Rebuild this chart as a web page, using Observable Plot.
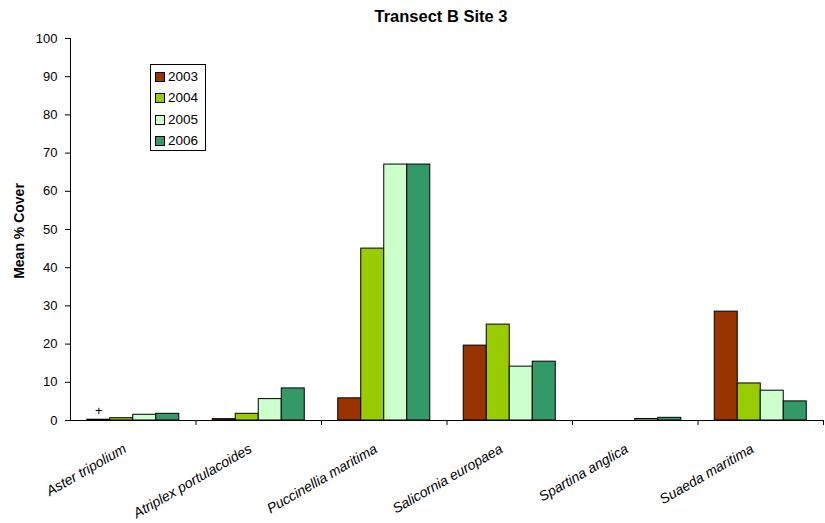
<!DOCTYPE html>
<html>
<head>
<meta charset="utf-8">
<script src="https://cdn.jsdelivr.net/npm/d3@7"></script>
<script src="https://cdn.jsdelivr.net/npm/@observablehq/plot@0.6"></script>
<style>
  html, body { margin: 0; padding: 0; background: #fff; }
  #wrap { position: relative; width: 825px; height: 523px; font-family: "Liberation Sans", Arial, sans-serif; }
  #title { position: absolute; left: 0; width: 882px; top: 7px; text-align: center; font-weight: bold; font-size: 16.5px; }
  #ylabel { position: absolute; left: 19px; top: 231px; transform: translate(-50%, -50%) rotate(-90deg); white-space: nowrap; font-weight: bold; font-size: 14px; }
  #legend { position: absolute; left: 150px; top: 64px; width: 56px; height: 87px; border: 1px solid #000; background: #fff; box-sizing: border-box; }
  .item { position: absolute; left: 4px; height: 16px; line-height: 16px; font-size: 13.5px; }
  .sw { display: inline-block; width: 8px; height: 8px; border: 1px solid #000; margin-right: 3px; vertical-align: -1px; }
  #chart svg text { font-family: "Liberation Sans", Arial, sans-serif; }
  #chart g[aria-label="y-axis tick label"] { font-size: 13px; }
</style>
</head>
<body>
<div id="wrap">
  <div id="title">Transect B Site 3</div>
  <div id="chart"></div>
  <div id="ylabel">Mean % Cover</div>
  <div id="legend"></div>
</div>
<script>
const categories = ["Aster tripolium", "Atriplex portulacoides", "Puccinellia maritima", "Salicornia europaea", "Spartina anglica", "Suaeda maritima"];
const years = ["2003", "2004", "2005", "2006"];
const colors = ["#993300", "#99CC00", "#CCFFCC", "#339966"];
const v2003 = [0.2, 0.35, 5.8, 19.6, 0, 28.5];
const v2004 = [0.6, 1.75, 45, 25.1, 0, 9.7];
const v2005 = [1.5, 5.6, 67, 14.1, 0.4, 7.8];
const v2006 = [1.75, 8.4, 67, 15.4, 0.7, 5.0];
const yTicks = [0, 10, 20, 30, 40, 50, 60, 70, 80, 90, 100];
const annotations = [{category: "Aster tripolium", year: "2003", label: "+"}];

const series = [v2003, v2004, v2005, v2006];
const data = [];
categories.forEach((c, i) => years.forEach((yr, j) => data.push({category: c, year: yr, value: series[j][i]})));

const half = 28.25;
const chart = Plot.plot({
  width: 825,
  height: 523,
  marginTop: 38,
  marginBottom: 103,
  marginLeft: 70,
  marginRight: 2,
  style: {fontSize: "13px", color: "#000", background: "#fff"},
  fx: {domain: categories, padding: 0, round: false, axis: null},
  x: {domain: years, paddingInner: 0, paddingOuter: 0.728, align: 0.5, round: false, axis: null},
  y: {domain: [0, 100], ticks: yTicks, tickSize: 5, tickPadding: 8, label: null},
  color: {domain: years, range: colors},
  marks: [
    Plot.barY(data, {fx: "category", x: "year", y: "value", fill: "year", stroke: "#000", strokeWidth: 1, inset: 0}),
    Plot.ruleY([0], {stroke: "#000", strokeWidth: 1}),
    Plot.ruleX(categories, {fx: d => d, x: () => years[0], dx: -half, y1: 0, y2: d => d === categories[0] ? 100 : -1.3, stroke: "#000", strokeWidth: 1}),
    Plot.ruleX([categories[categories.length - 1]], {fx: d => d, x: () => years[3], dx: half, y1: 0, y2: -1.3, stroke: "#000"}),
    Plot.text(categories, {fx: d => d, text: d => d, frameAnchor: "bottom", rotate: -30, textAnchor: "end", dx: -6, dy: 31, fontStyle: "italic", fontSize: 14}),
    Plot.text(annotations, {fx: "category", x: "year", y: () => 0, text: "label", dy: -10, fontSize: 13})
  ]
});
document.getElementById("chart").appendChild(chart);

const legend = document.getElementById("legend");
years.forEach((yr, i) => {
  const it = document.createElement("div");
  it.className = "item";
  it.style.top = (4 + i * 21.3) + "px";
  const sw = document.createElement("span");
  sw.className = "sw";
  sw.style.background = colors[i];
  it.appendChild(sw);
  it.appendChild(document.createTextNode(yr));
  legend.appendChild(it);
});
</script>
</body>
</html>
